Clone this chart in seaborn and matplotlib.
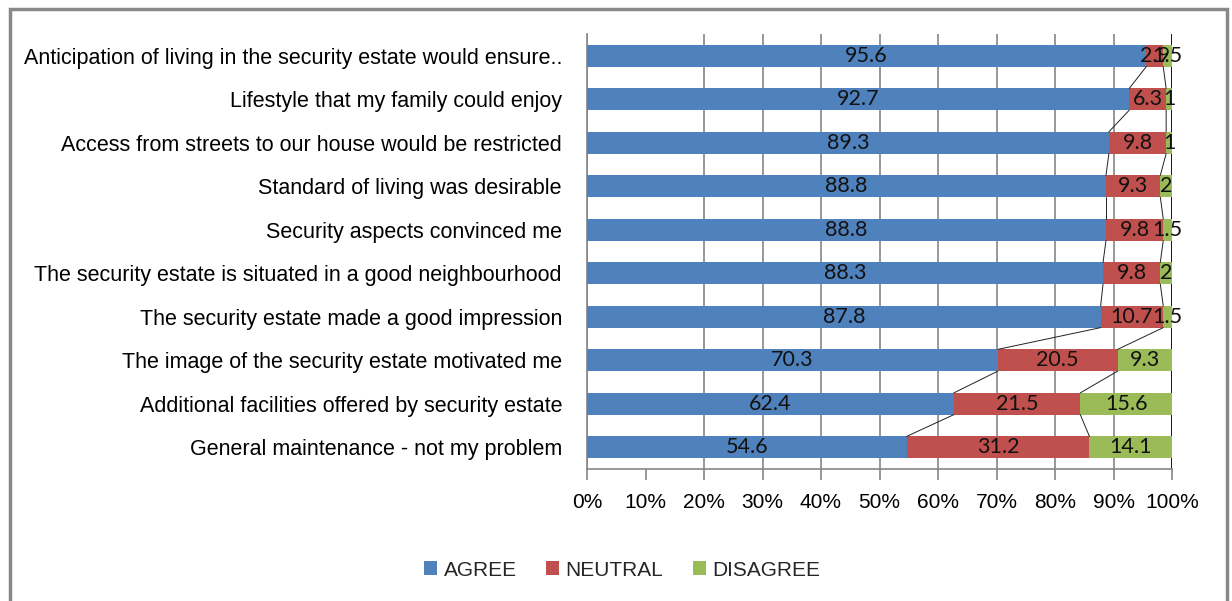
import matplotlib
matplotlib.use("Agg")
import matplotlib.pyplot as plt
from matplotlib.patches import Patch, Rectangle
import seaborn as sns
import pandas as pd
import numpy as np

categories = [
    "Anticipation of living in the security estate would ensure..",
    "Lifestyle that my family could enjoy",
    "Access from streets to our house would be restricted",
    "Standard of living was desirable",
    "Security aspects convinced me",
    "The security estate is situated in a good neighbourhood",
    "The security estate made a good impression",
    "The image of the security estate motivated me",
    "Additional facilities offered by security estate",
    "General maintenance - not my problem",
]
agree = [95.6, 92.7, 89.3, 88.8, 88.8, 88.3, 87.8, 70.3, 62.4, 54.6]
neutral = [2.9, 6.3, 9.8, 9.3, 9.8, 9.8, 10.7, 20.5, 21.5, 31.2]
disagree = [1.5, 1, 1, 2, 1.5, 2, 1.5, 9.3, 15.6, 14.1]
series_names = ["AGREE", "NEUTRAL", "DISAGREE"]
xtick_vals = [0, 10, 20, 30, 40, 50, 60, 70, 80, 90, 100]
xtick_labels = [f"{v}%" for v in xtick_vals]

colors = ["#4F81BD", "#C0504D", "#9BBB59"]

sns.set_theme(style="white")
plt.rcParams["font.family"] = ["Liberation Sans", "DejaVu Sans"]

a = np.array(agree, float)
n = np.array(neutral, float)
d = np.array(disagree, float)
tot = a + n + d
pa = a / tot * 100
pn = n / tot * 100
pd_ = d / tot * 100
c1 = pa
c2 = pa + pn
c3 = c2 + pd_

df = pd.DataFrame({"cat": categories, "c1": c1, "c2": c2, "c3": c3})

fig = plt.figure(figsize=(12.32, 6.01), dpi=100)
ax = fig.add_axes([587 / 1232, 1 - 469 / 601, (1172 - 587) / 1232, (469 - 34) / 601])

bw = 0.5
for col, colr in zip(["c3", "c2", "c1"], [colors[2], colors[1], colors[0]]):
    sns.barplot(data=df, x=col, y="cat", orient="h", color=colr, width=bw,
                saturation=1, ax=ax, zorder=3, edgecolor="none", linewidth=0)

# series lines
for cum in (c1, c2):
    for i in range(len(categories) - 1):
        ax.plot([cum[i], cum[i + 1]], [i + bw / 2, i + 1 - bw / 2],
                color="#222222", lw=0.7, zorder=4)

# data labels
lab_font = dict(family=["Lato", "DejaVu Sans"], fontsize=15.5, color="#111111")
for i in range(len(categories)):
    starts = [0, c1[i], c2[i]]
    widths = [pa[i], pn[i], pd_[i]]
    raws = [agree[i], neutral[i], disagree[i]]
    for s, w, r in zip(starts, widths, raws):
        ax.text(s + w / 2, i, f"{r:g}", ha="center", va="center", zorder=5, **lab_font)

ax.set_xlim(0, 100)
ax.set_ylim(len(categories) - 0.5, -0.5)
ax.set_xticks(xtick_vals)
ax.set_xticklabels(xtick_labels, fontsize=15)
ax.set_xlabel("")
ax.set_ylabel("")
ax.tick_params(axis="x", direction="out", length=8, width=1.2, color="#868686",
               pad=9, labelcolor="black", bottom=True)
ax.tick_params(axis="y", length=0, pad=18, labelsize=15.5, labelcolor="black")

ax.set_axisbelow(True)
ax.grid(axis="x", color="#868686", lw=1.2)
ax.grid(axis="y", visible=False)
gl = ax.xaxis.get_gridlines()
gl[1].set_visible(False)
gl[-1].set_color("black")
gl[-1].set_linewidth(2)

for s in ["top", "right"]:
    ax.spines[s].set_visible(False)
for s in ["left", "bottom"]:
    ax.spines[s].set_color("#868686")
    ax.spines[s].set_linewidth(1.2)

handles = [Patch(facecolor=c, edgecolor="none") for c in colors]
fig.legend(handles, series_names, loc="center", bbox_to_anchor=(622 / 1232, 1 - 570 / 601),
           ncol=3, frameon=False, fontsize=15, handlelength=0.65, handleheight=0.65,
           handletextpad=0.3, columnspacing=1.4)

fig.patches.append(Rectangle((9.5 / 1232, -0.05), (1227 - 9.5) / 1232, 1.05 - 9 / 601,
                             transform=fig.transFigure, fill=False,
                             edgecolor="#888888", lw=2.5))

fig.savefig("out.png", dpi=100)
